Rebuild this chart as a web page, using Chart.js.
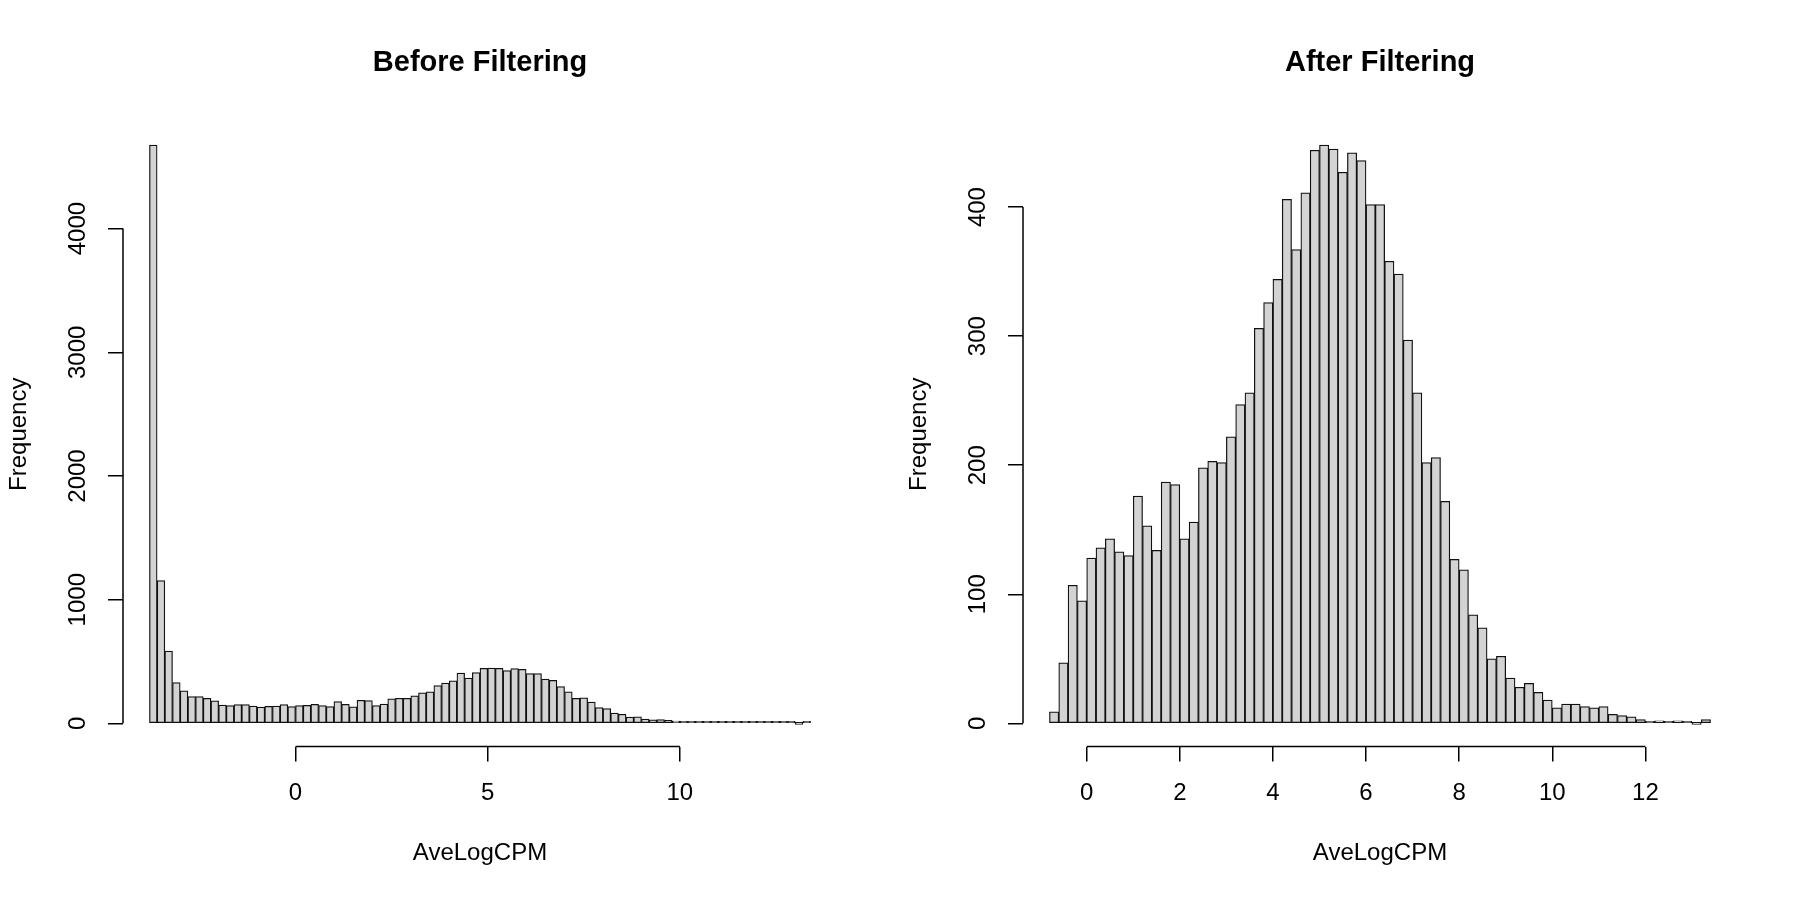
<!DOCTYPE html>
<html>
<head>
<meta charset="utf-8">
<script src="https://cdn.jsdelivr.net/npm/chart.js@4.4.1/dist/chart.umd.min.js"></script>
<style>
  html, body { margin: 0; padding: 0; background: #fff; }
  #wrap { display: flex; width: 1800px; height: 900px; }
  .panel { width: 900px; height: 900px; }
</style>
</head>
<body>
<div id="wrap">
  <div class="panel"><canvas id="before" width="900" height="900"></canvas></div>
  <div class="panel"><canvas id="after" width="900" height="900"></canvas></div>
</div>
<script>
// histogram breaks (bin width 0.2)
var binWidth = 0.2;
var beforeStart = -3.8;
var afterStart = -0.8;

// counts per bin
var beforeCounts = [4675, 1155, 585, 329, 264, 216, 216, 202, 183, 148,
  143, 151, 151, 140, 132, 137, 140, 151, 135, 143,
  146, 154, 143, 135, 176, 153, 134, 187, 185, 143,
  156, 198, 203, 202, 222, 246, 256, 306, 326, 344,
  406, 367, 411, 444, 448, 445, 427, 442, 436, 402,
  402, 358, 348, 297, 256, 202, 206, 172, 127, 119,
  84, 74, 50, 52, 35, 28, 31, 24, 18, 12,
  15, 15, 13, 12, 13, 7, 6, 5, 3, 1,
  2, 1, 2, 1, 0, 3];

var afterCounts = [9, 47, 107, 95, 128, 136, 143, 133, 130, 176,
  153, 134, 187, 185, 143, 156, 198, 203, 202, 222,
  247, 256, 306, 326, 344, 406, 367, 411, 444, 448,
  445, 427, 442, 436, 402, 402, 358, 348, 297, 256,
  202, 206, 172, 127, 119, 84, 74, 50, 52, 35,
  28, 31, 24, 18, 12, 15, 15, 13, 12, 13,
  7, 6, 5, 3, 1, 2, 1, 2, 1, 0,
  3];

// tick labels
var beforeXTicks = [0, 5, 10];
var beforeYTicks = [0, 1000, 2000, 3000, 4000];
var afterXTicks = [0, 2, 4, 6, 8, 10, 12];
var afterYTicks = [0, 100, 200, 300, 400];

Chart.defaults.font.family = '"Liberation Sans", Arial, Helvetica, sans-serif';
Chart.defaults.color = '#000';

// R draws its axis line only from the first to the last tick
var rAxisLines = {
  id: 'rAxisLines',
  afterDraw: function(chart) {
    var ctx = chart.ctx, a = chart.chartArea;
    var xs = chart.scales.x, ys = chart.scales.y;
    var xt = xs.ticks, yt = ys.ticks;
    ctx.save();
    ctx.strokeStyle = '#000';
    ctx.lineWidth = 1.5;
    ctx.beginPath();
    ctx.moveTo(xs.getPixelForValue(xt[0].value), a.bottom);
    ctx.lineTo(xs.getPixelForValue(xt[xt.length - 1].value), a.bottom);
    ctx.moveTo(a.left, ys.getPixelForValue(yt[0].value));
    ctx.lineTo(a.left, ys.getPixelForValue(yt[yt.length - 1].value));
    ctx.stroke();
    ctx.restore();
  }
};

function makeHist(id, title, start, counts, xTicks, yTicks, yPad) {
  var end = start + binWidth * counts.length;
  var xr = end - start;
  var ymax = Math.max.apply(null, counts);
  var points = counts.map(function(c, i) {
    return { x: start + binWidth * (i + 0.5), y: c };
  });

  new Chart(document.getElementById(id), {
    type: 'bar',
    data: {
      datasets: [{
        data: points,
        backgroundColor: '#d3d3d3',
        borderColor: '#111',
        borderWidth: 1.25,
        borderSkipped: false,
        barPercentage: 1,
        categoryPercentage: 1,
        minBarLength: 2
      }]
    },
    options: {
      responsive: false,
      devicePixelRatio: 1,
      animation: false,
      layout: { padding: { left: 0, right: 63, top: 0, bottom: 0 } },
      plugins: {
        legend: { display: false },
        tooltip: { enabled: false },
        title: {
          display: true,
          text: title,
          fullSize: false,
          color: '#000',
          font: { size: 29, weight: 'bold' },
          padding: { top: 45.6, bottom: 41.6 }
        }
      },
      scales: {
        x: {
          type: 'linear',
          offset: false,
          bounds: 'data',
          min: start - 0.04 * xr,
          max: end + 0.04 * xr,
          afterBuildTicks: function(ax) {
            ax.ticks = xTicks.map(function(v) { return { value: v }; });
          },
          afterFit: function(s) {
            s.height = 153.5;
            s.paddingLeft = 0;
            s.paddingRight = 0;
          },
          ticks: {
            autoSkip: false,
            minRotation: 0,
            maxRotation: 0,
            padding: 17,
            color: '#000',
            font: { size: 24 },
            callback: function(v) { return String(v); }
          },
          grid: { offset: false, drawOnChartArea: false, drawTicks: true, tickLength: 15, color: '#000', lineWidth: 1.5 },
          border: { display: false },
          title: {
            display: true,
            text: 'AveLogCPM',
            color: '#000',
            font: { size: 24 },
            padding: { top: 0, bottom: 32.6 }
          }
        },
        y: {
          type: 'linear',
          bounds: 'data',
          min: -0.04 * ymax,
          max: 1.04 * ymax,
          afterBuildTicks: function(ax) {
            ax.ticks = yTicks.map(function(v) { return { value: v }; });
          },
          afterFit: function(s) {
            s.width = 123;
            s.paddingTop = 0;
            s.paddingBottom = 0;
          },
          ticks: {
            autoSkip: false,
            minRotation: 90,
            maxRotation: 90,
            crossAlign: 'center',
            padding: yPad,
            color: '#000',
            font: { size: 24 },
            callback: function(v) { return String(v); }
          },
          grid: { drawOnChartArea: false, drawTicks: true, tickLength: 15, color: '#000', lineWidth: 1.5 },
          border: { display: false },
          title: {
            display: true,
            text: 'Frequency',
            color: '#000',
            font: { size: 24 },
            padding: { top: 5, bottom: 0 }
          }
        }
      }
    },
    plugins: [rAxisLines]
  });
}

makeHist('before', 'Before Filtering', beforeStart, beforeCounts, beforeXTicks, beforeYTicks, 3);
makeHist('after', 'After Filtering', afterStart, afterCounts, afterXTicks, afterYTicks, 10);
</script>
</body>
</html>
